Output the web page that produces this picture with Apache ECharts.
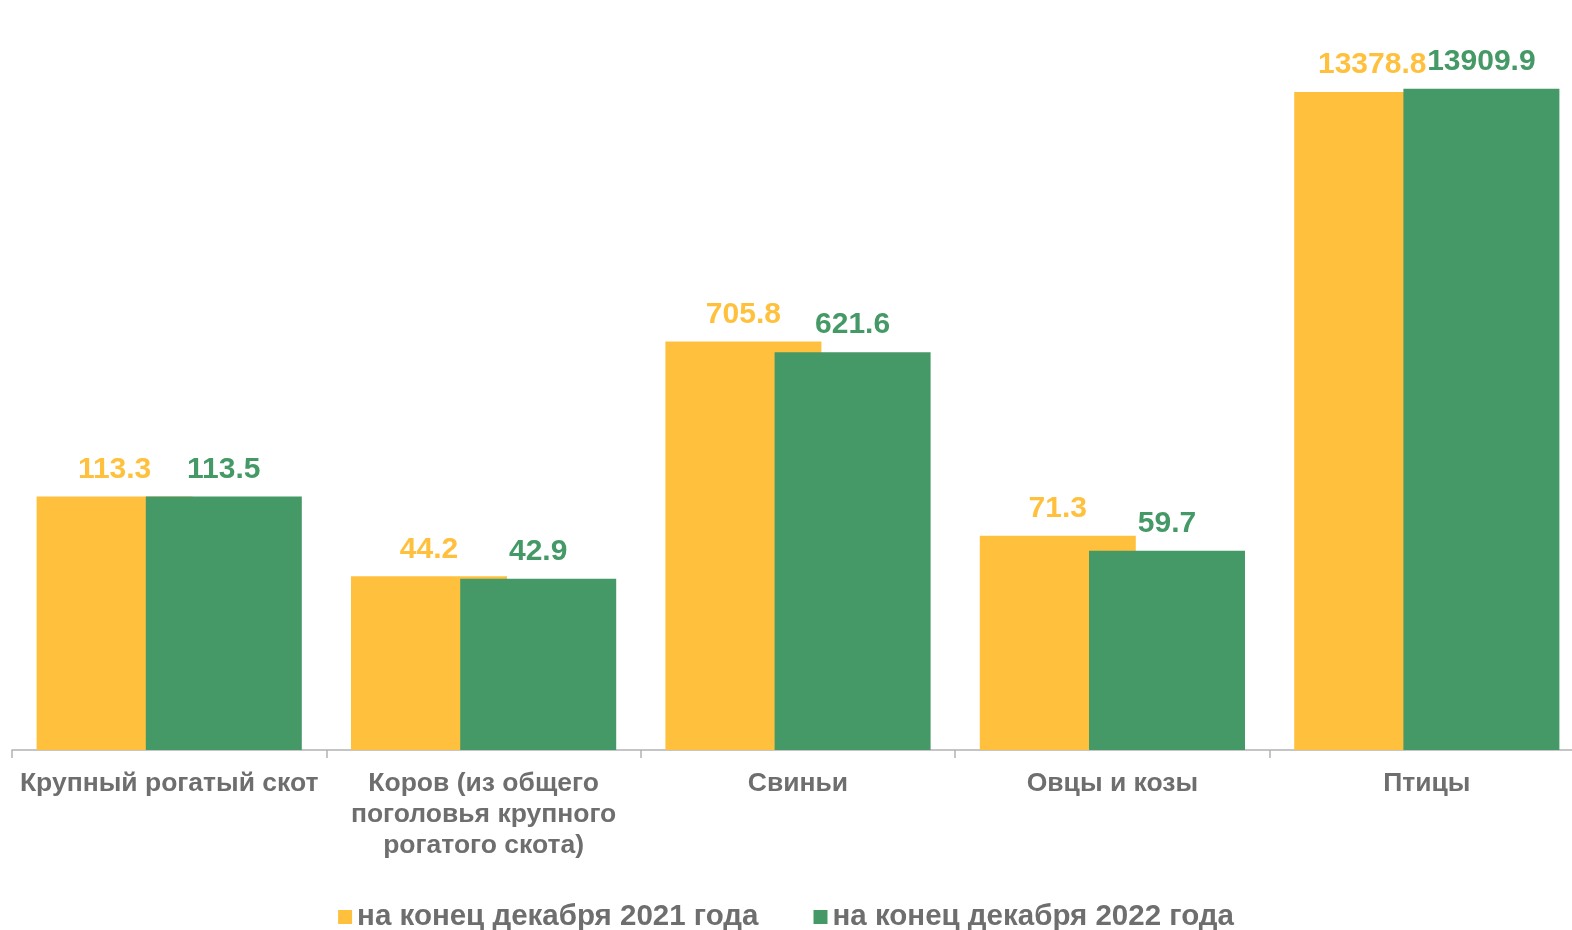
<!DOCTYPE html>
<html><head><meta charset="utf-8">
<script src="https://cdn.jsdelivr.net/npm/echarts@6/dist/echarts.min.js"></script>
<style>html,body{margin:0;padding:0;background:#fff}#c{width:1572px;height:930px}</style>
</head><body><div id="c"></div>
<script>
const categories = ['Крупный рогатый скот', 'Коров (из общего\nпоголовья крупного\nрогатого скота)', 'Свиньи', 'Овцы и козы', 'Птицы'];
const seriesNames = ['на конец декабря 2021 года', 'на конец декабря 2022 года'];
const values2021 = [113.3, 44.2, 705.8, 71.3, 13378.8];
const values2022 = [113.5, 42.9, 621.6, 59.7, 13909.9];

const YELLOW = '#FFC13D', GREEN = '#449966', GRAY = '#6e6e6e';
const chart = echarts.init(document.getElementById('c'));
const labelStyle = (c) => ({show: true, position: 'top', distance: 12, color: c, fontFamily: 'Liberation Sans', fontWeight: 'bold', fontSize: 30,
  formatter: p => p.value.toFixed(1)});
chart.setOption({
  animation: false,
  grid: {left: 12, width: 1572, top: 0, bottom: 180, containLabel: false, outerBoundsMode: 'none'},
  legend: {top: 897, left: 'center', itemWidth: 14, itemHeight: 14, itemGap: 55, icon: 'rect',
    textStyle: {color: GRAY, fontFamily: 'Liberation Sans', fontWeight: 'bold', fontSize: 29.5},
    data: seriesNames},
  xAxis: {type: 'category', data: categories,
    axisLine: {lineStyle: {color: '#b3b3b3', width: 1.5}},
    axisTick: {show: true, length: 8, interval: 0, lineStyle: {color: '#b3b3b3', width: 1.5}},
    axisLabel: {interval: 0, margin: 18, color: GRAY, fontFamily: 'Liberation Sans', fontWeight: 'bold', fontSize: 26.5, lineHeight: 31}},
  yAxis: {type: 'log', min: 5.7, max: 39600, show: false, splitLine: {show: false}},
  series: [
    {name: seriesNames[0], type: 'bar', data: values2021, barWidth: 156, barGap: '-30%', itemStyle: {color: YELLOW}, label: labelStyle(YELLOW)},
    {name: seriesNames[1], type: 'bar', data: values2022, barWidth: 156, barGap: '-30%', itemStyle: {color: GREEN}, label: labelStyle(GREEN)}
  ]
});
</script></body></html>
